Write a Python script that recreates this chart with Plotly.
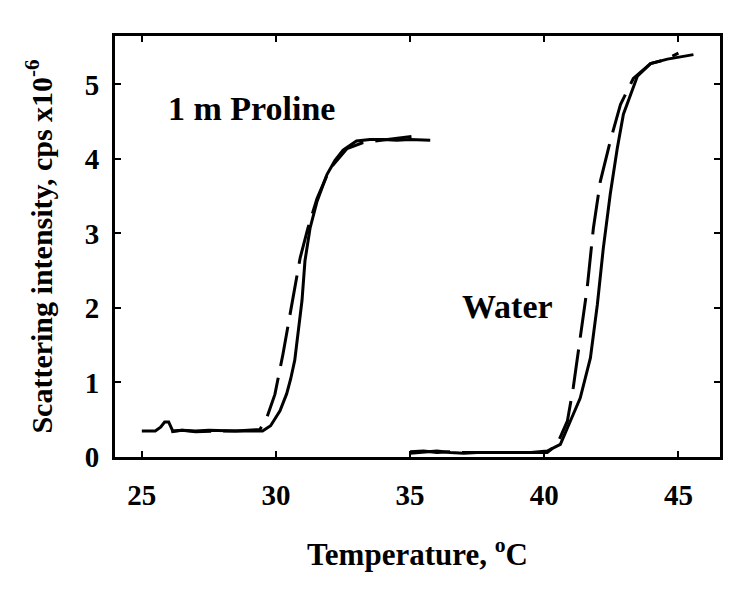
import plotly.graph_objects as go

# 1 m proline, solid and dashed runs
pro_solid_t = [25.0, 25.5, 25.7, 25.85, 26.0, 26.15, 26.5, 27.0, 27.5, 28.0, 28.5, 29.0, 29.5,
               29.8, 30.15, 30.4, 30.55, 30.7, 30.8, 30.9, 30.97, 31.08, 31.27, 31.53, 31.9,
               32.2, 32.5, 33.0, 33.5, 34.0, 34.5, 35.0, 35.75]
pro_solid_i = [0.35, 0.35, 0.40, 0.47, 0.47, 0.35, 0.36, 0.35, 0.36, 0.35, 0.35, 0.35, 0.35,
               0.42, 0.62, 0.85, 1.05, 1.30, 1.60, 1.90, 2.10, 2.63, 3.07, 3.43, 3.79,
               3.98, 4.12, 4.24, 4.26, 4.26, 4.25, 4.26, 4.25]

pro_dash_t = [26.1, 26.5, 27.0, 27.5, 28.0, 28.5, 29.0, 29.4, 29.66, 29.96, 30.26, 30.6, 30.9,
              31.19, 31.53, 32.01, 32.65, 33.25, 34.0, 34.5, 35.05]
pro_dash_i = [0.34, 0.36, 0.34, 0.35, 0.35, 0.35, 0.36, 0.37, 0.53, 0.84, 1.38, 2.09, 2.67,
              3.07, 3.47, 3.87, 4.14, 4.22, 4.25, 4.27, 4.30]

# water, solid and dashed runs
wat_solid_t = [35.0, 35.5, 36.0, 36.5, 37.0, 37.5, 38.0, 38.5, 39.0, 39.5, 40.11, 40.6, 40.97,
               41.34, 41.72, 41.98, 42.2, 42.46, 42.72, 42.95, 43.47, 43.96, 44.59, 45.56]
wat_solid_i = [0.05, 0.06, 0.08, 0.06, 0.05, 0.06, 0.06, 0.06, 0.06, 0.06, 0.08, 0.17, 0.48,
               0.79, 1.33, 2.05, 2.80, 3.53, 4.14, 4.60, 5.11, 5.28, 5.34, 5.40]

wat_dash_t = [35.0, 35.5, 36.0, 36.5, 37.0, 37.5, 38.0, 38.5, 39.0, 39.5, 40.11, 40.48, 40.86,
              41.08, 41.34, 41.6, 41.83, 42.09, 42.46, 42.84, 43.32, 43.96, 44.5, 45.0]
wat_dash_i = [0.07, 0.08, 0.06, 0.07, 0.06, 0.06, 0.07, 0.06, 0.07, 0.07, 0.06, 0.17, 0.48,
              0.93, 1.60, 2.27, 3.07, 3.70, 4.24, 4.73, 5.08, 5.28, 5.33, 5.42]

x_ticks = [25, 30, 35, 40, 45]
y_ticks = [0, 1, 2, 3, 4, 5]

fnt = "Liberation Serif"
solid = dict(color="black", width=3)
dashed = dict(color="black", width=3, dash="40px,12px")

fig = go.Figure()
fig.add_trace(go.Scatter(x=pro_dash_t, y=pro_dash_i, mode="lines", line=dashed))
fig.add_trace(go.Scatter(x=pro_solid_t, y=pro_solid_i, mode="lines", line=solid))
fig.add_trace(go.Scatter(x=wat_dash_t, y=wat_dash_i, mode="lines", line=dashed))
fig.add_trace(go.Scatter(x=wat_solid_t, y=wat_solid_i, mode="lines", line=solid))

fig.add_annotation(x=29.07, y=4.68, text="1 m Proline", showarrow=False,
                   font=dict(family=fnt, size=34, color="black", weight="bold"))
fig.add_annotation(x=38.62, y=2.02, text="Water", showarrow=False,
                   font=dict(family=fnt, size=34, color="black", weight="bold"))

axis_common = dict(
    showline=True, linewidth=3, linecolor="black", mirror="ticks",
    ticks="inside", ticklen=6, tickwidth=2, tickcolor="black",
    showgrid=False, zeroline=False,
    tickfont=dict(family=fnt, size=29, color="black", weight="bold"),
)
fig.update_xaxes(range=[24, 46.55], tickvals=x_ticks, ticklabelstandoff=10,
                 title=dict(text="Temperature, <sup>o</sup>C", standoff=34,
                            font=dict(family=fnt, size=31, color="black", weight="bold")),
                 **axis_common)
fig.update_yaxes(range=[0, 5.65], tickvals=y_ticks, ticklabelstandoff=7,
                 title=dict(text="Scattering intensity, cps x10<sup>-6</sup>", standoff=24,
                            font=dict(family=fnt, size=30, color="black", weight="bold")),
                 **axis_common)

fig.update_layout(
    width=750, height=592, showlegend=False,
    plot_bgcolor="white", paper_bgcolor="white",
    margin=dict(l=115, r=30, t=36, b=135),
)
fig.write_html("out.html", config={"displayModeBar": False},
               post_script="document.body.style.margin='0';")
